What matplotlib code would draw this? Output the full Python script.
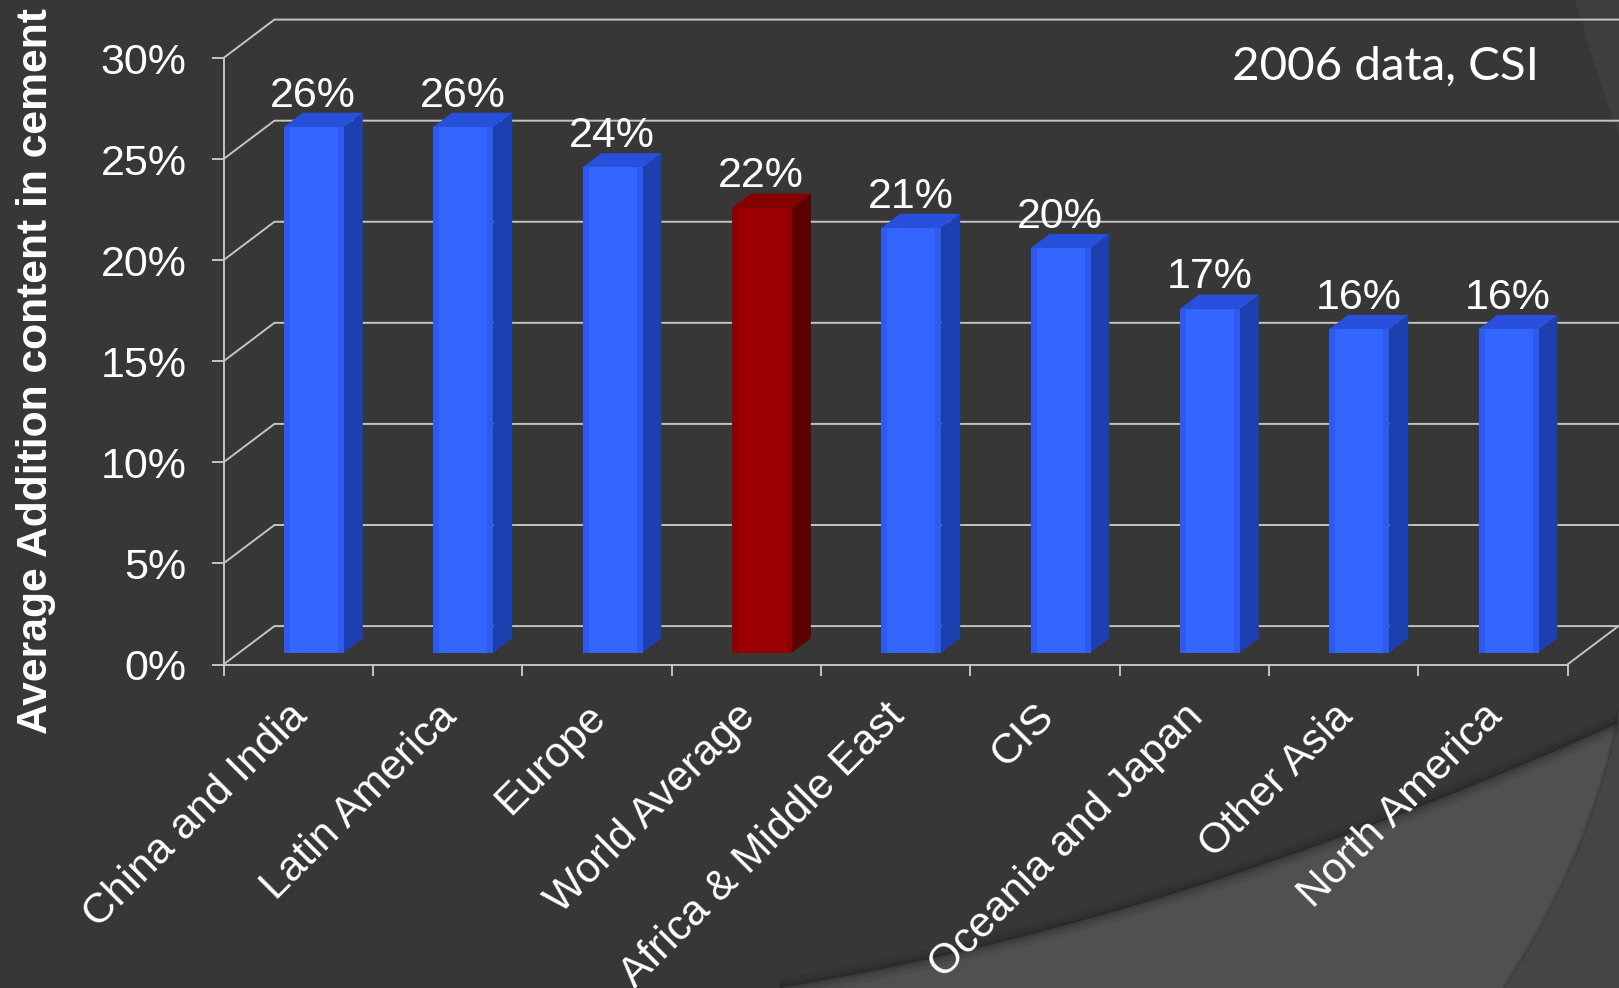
import numpy as np
import matplotlib
matplotlib.use("Agg")
import matplotlib.pyplot as plt
from matplotlib.patches import PathPatch
from matplotlib.path import Path
from matplotlib.transforms import ScaledTranslation

categories = ["China and India", "Latin America", "Europe", "World Average",
              "Africa & Middle East", "CIS", "Oceania and Japan", "Other Asia",
              "North America"]
values = [26, 26, 24, 22, 21, 20, 17, 16, 16]
y_ticks = [0, 5, 10, 15, 20, 25, 30]

W, H = 1619, 988
BG = "#373737"
GRID = "#c4c4c4"

# 3d look: how far the back wall sits from the front plane, in data units
DEPTH_X = 0.341
DEPTH_Y = 1.9
BAR_W = 0.402
BAR_T0 = 0.31
BAR_T1 = 0.68

plt.rcParams["font.family"] = ["Liberation Sans", "DejaVu Sans"]

fig = plt.figure(figsize=(W / 100, H / 100), dpi=100, facecolor=BG)

# slide background swooshes, drawn in pixel coordinates
bg = fig.add_axes([0, 0, 1, 1], zorder=0)
bg.set_xlim(0, W)
bg.set_ylim(H, 0)
bg.axis("off")


def swoosh(verts, codes, color, z):
    bg.add_patch(PathPatch(Path(verts, codes), facecolor=color, edgecolor="none", zorder=z))


M, C, L, Z = Path.MOVETO, Path.CURVE4, Path.LINETO, Path.CLOSEPOLY

# top right corner
swoosh([(1575, 0), (1590, 50), (1605, 100), (1619, 135), (1619, 0), (1575, 0)],
       [M, C, C, C, L, Z], "#3e3e3e", 1)
# light band, bottom right
lower_edge = [(780, 988), (1100, 935), (1380, 830), (1619, 723)]
swoosh(lower_edge + [(1619, 988), (780, 988)], [M, C, C, C, L, Z], "#505050", 1)
# darker corner on the band
corner_edge = [(1503, 988), (1560, 900), (1600, 810), (1619, 710)]
swoosh(corner_edge + [(1619, 988), (1503, 988)], [M, C, C, C, L, Z], "#454545", 2)

# soft shadows along the edges
curve = Path(lower_edge, [M, C, C, C])
for lw, a in [(14, 0.05), (9, 0.07), (4, 0.1)]:
    bg.add_patch(PathPatch(curve, facecolor="none", edgecolor="black", lw=lw, alpha=a, zorder=3))
bg.add_patch(PathPatch(Path(corner_edge, [M, C, C, C]), facecolor="none", edgecolor="black",
                       lw=3, alpha=0.08, zorder=3))

ax = fig.add_axes([223.5 / W, 1 - 664.5 / H, 1344 / W, 606.5 / H], zorder=1)
ax.patch.set_alpha(0)
ax.set_xlim(0, 9)
ax.set_ylim(0, 30)

# walls and floor
for v in y_ticks:
    ax.plot([0, DEPTH_X, 9 + DEPTH_X], [v, v + DEPTH_Y, v + DEPTH_Y],
            color=GRID, lw=1.4, clip_on=False, zorder=1)
ax.plot([9, 9 + DEPTH_X], [0, DEPTH_Y], color=GRID, lw=1.4, clip_on=False, zorder=1)

x = np.arange(len(values)) + 0.5 + BAR_T0 * DEPTH_X
base = BAR_T0 * DEPTH_Y
front = ["#2e5af2" if c != "World Average" else "#8c0000" for c in categories]
core = ["#3366ff" if c != "World Average" else "#9c0000" for c in categories]
side = ["#1d40b0" if c != "World Average" else "#5c0000" for c in categories]
top = ["#2850dc" if c != "World Average" else "#860000" for c in categories]

ax.bar(x, values, BAR_W, bottom=base, color=front, zorder=3)
ax.bar(x, values, BAR_W * 0.8, bottom=base, color=core, zorder=3.1)

ddx = (BAR_T1 - BAR_T0) * DEPTH_X
ddy = (BAR_T1 - BAR_T0) * DEPTH_Y
for xi, v, cs, ct in zip(x, values, side, top):
    r = xi + BAR_W / 2
    l = xi - BAR_W / 2
    ytop = v + base
    ax.fill([r, r + ddx, r + ddx, r], [base, base + ddy, ytop + ddy, ytop], color=cs, lw=0, zorder=2.9)
    ax.fill([l, l + ddx, r + ddx, r], [ytop, ytop + ddy, ytop + ddy, ytop], color=ct, lw=0, zorder=2.9)
    ax.text(xi - 0.005, v + 1.6, f"{v}%", color="white", fontsize=31, ha="center", va="baseline", zorder=5)

for name in ["top", "right"]:
    ax.spines[name].set_visible(False)
for name in ["left", "bottom"]:
    ax.spines[name].set_color(GRID)
    ax.spines[name].set_linewidth(1.4)

ax.set_yticks(y_ticks)
ax.set_yticklabels([f"{v}%" for v in y_ticks])
ax.tick_params(axis="y", length=8.5, width=1.4, color=GRID, labelcolor="white", labelsize=31, pad=18)

ax.set_xticks(np.arange(10))
ax.set_xticklabels([])
ax.tick_params(axis="x", which="major", length=8, width=1.4, color=GRID)
ax.set_xticks(np.arange(9) + 0.5, minor=True)
ax.set_xticklabels(categories, minor=True, rotation=45, ha="right", va="top",
                   rotation_mode="anchor", color="white", fontsize=30.7)
ax.tick_params(axis="x", which="minor", length=0, pad=23)
# labels sit a little left of the category centres
for lab in ax.get_xticklabels(minor=True):
    lab.set_transform(lab.get_transform() + ScaledTranslation(-11 / 100, 0, fig.dpi_scale_trans))

ax.set_ylabel("Average Addition content in cement", color="white", fontsize=30.7, fontweight="bold")
ax.yaxis.set_label_coords(-0.1245, 0.484)

bg.text(1539, 80, "2006 data, CSI", color="white", fontsize=34.2, ha="right", va="baseline",
        family=["Lato", "DejaVu Sans"], zorder=5)

fig.savefig("out.png", dpi=100, facecolor=BG)
